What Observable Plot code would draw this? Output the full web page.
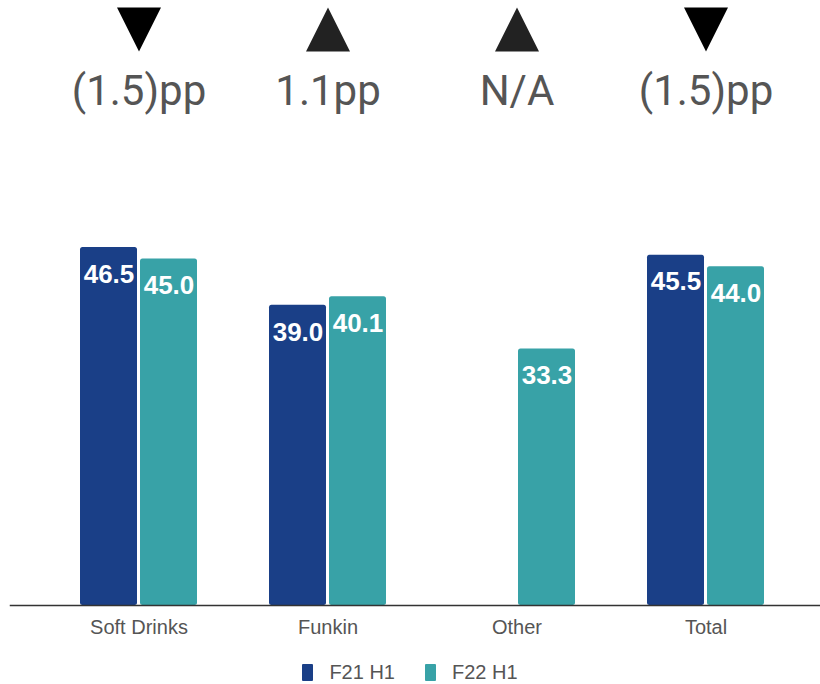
<!DOCTYPE html>
<html>
<head>
<meta charset="utf-8">
<script src="https://cdn.jsdelivr.net/npm/d3@7"></script>
<script src="https://cdn.jsdelivr.net/npm/@observablehq/plot@0.6"></script>
<style>
  html, body { margin: 0; padding: 0; background: #fff; }
  #chart svg { display: block; }
  .legend {
    display: flex; justify-content: center; align-items: center;
    font: 20px "Liberation Sans", Arial, sans-serif; color: #555;
    margin-top: 10px; padding-left: 0; height: 24px;
  }
  .legend .item { display: flex; align-items: center; margin: 0 15px; }
  .legend .swatch { width: 11px; height: 17px; margin-right: 16px; border-radius: 1px; }
</style>
</head>
<body>
<div id="chart"></div>
<div class="legend" id="legend"></div>
<script>
// Categories and the two half-year series
const categories = ["Soft Drinks", "Funkin", "Other", "Total"];
const seriesNames = ["F21 H1", "F22 H1"];
const f21 = [46.5, 39.0, null, 45.5];
const f22 = [45.0, 40.1, 33.3, 44.0];

// Year-on-year change shown above each group
const changeLabels = ["(1.5)pp", "1.1pp", "N/A", "(1.5)pp"];
const changeDirs = ["down", "up", "up", "down"];

const colors = ["#1a3f87", "#38a2a7"];

// Long-format rows for the grouped bars (missing values are skipped)
const rows = [];
categories.forEach((c, i) => {
  [f21[i], f22[i]].forEach((v, j) => {
    if (v != null) rows.push({category: c, series: seriesNames[j], value: v});
  });
});
const changes = categories.map((c, i) => ({category: c, label: changeLabels[i], dir: changeDirs[i]}));

// Triangle glyphs, centred on their bounding box
const triDown = {draw(ctx, size) { const r = Math.sqrt(size / Math.PI); ctx.moveTo(-r, -r); ctx.lineTo(r, -r); ctx.lineTo(0, r); ctx.closePath(); }};
const triUp = {draw(ctx, size) { const r = Math.sqrt(size / Math.PI); ctx.moveTo(0, -r); ctx.lineTo(r, r); ctx.lineTo(-r, r); ctx.closePath(); }};

const chart = Plot.plot({
  width: 820,
  height: 650,
  marginTop: 220,
  marginBottom: 45,
  marginLeft: 44,
  marginRight: 20,
  style: {fontFamily: "'Liberation Sans', Arial, sans-serif", background: "#fff"},
  fx: {domain: categories, padding: 0, label: null},
  x: {domain: seriesNames, paddingInner: 0.05, paddingOuter: 0.587, axis: null},
  y: {domain: [0, 50], axis: null},
  color: {domain: seriesNames, range: colors},
  marks: [
    Plot.barY(rows, {fx: "category", x: "series", y: "value", fill: "series", rx: 2.5}),
    Plot.text(rows, {
      fx: "category", x: "series", y: "value",
      text: d => d.value.toFixed(1),
      dy: 27, fill: "white", fontSize: 26, fontWeight: "bold", lineAnchor: "middle"
    }),
    // baseline running under all groups, out to the edges of the chart
    Plot.frame({anchor: "bottom", facet: "super", stroke: "#333", strokeWidth: 1.5, insetLeft: -34, insetRight: -20}),
    Plot.axisFx({anchor: "bottom", tickSize: 0, tickPadding: 14, fontSize: 20, color: "#555", label: null}),
    Plot.dot(changes, {
      filter: d => d.dir === "down", fx: "category", frameAnchor: "top",
      dy: -191, r: 22, symbol: triDown, fill: "#000", stroke: "none"
    }),
    Plot.dot(changes, {
      filter: d => d.dir === "up", fx: "category", frameAnchor: "top",
      dy: -191, r: 22, symbol: triUp, fill: "#222", stroke: "none"
    }),
    Plot.text(changes, {
      fx: "category", frameAnchor: "top", text: "label",
      dy: -129, fontSize: 42, fontFamily: "Roboto", fill: "#555", lineAnchor: "middle"
    })
  ]
});
document.getElementById("chart").appendChild(chart);

// Legend
const legend = document.getElementById("legend");
seriesNames.forEach((name, i) => {
  const item = document.createElement("div");
  item.className = "item";
  const sw = document.createElement("span");
  sw.className = "swatch";
  sw.style.background = colors[i];
  const label = document.createElement("span");
  label.textContent = name;
  item.append(sw, label);
  legend.appendChild(item);
});
</script>
</body>
</html>
